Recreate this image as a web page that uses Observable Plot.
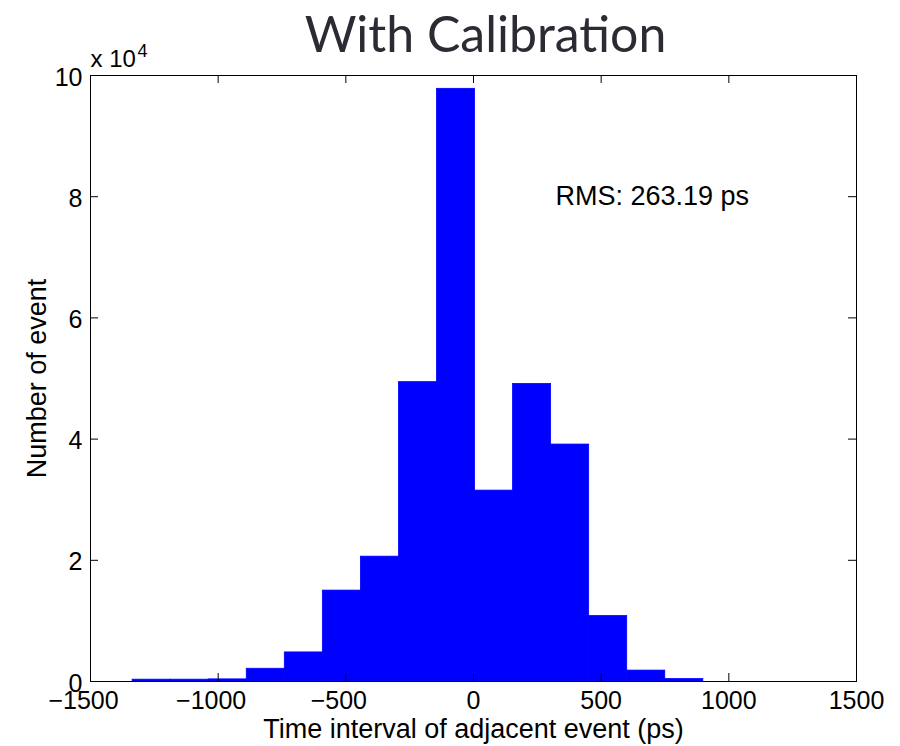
<!DOCTYPE html>
<html>
<head>
<meta charset="utf-8">
<script src="https://cdn.jsdelivr.net/npm/d3@7"></script>
<script src="https://cdn.jsdelivr.net/npm/@observablehq/plot@0.6"></script>
<style>
  html, body { margin: 0; padding: 0; background: #fff; }
</style>
</head>
<body>
<div id="chart"></div>
<script>
// Histogram bin edges (ps) and counts
const binEdges = [-1335, -1186, -1037, -888, -739, -590, -441, -292, -143, 6, 155, 304, 453, 602, 751, 900];
const counts = [300, 300, 350, 2100, 4800, 15000, 20600, 49400, 97800, 31500, 49100, 39100, 10800, 1800, 400];
const xTicks = [-1500, -1000, -500, 0, 500, 1000, 1500];
const yTicks = [0, 20000, 40000, 60000, 80000, 100000];
const titleText = "With Calibration";
const xLabel = "Time interval of adjacent event (ps)";
const yLabel = "Number of event";
const rmsNote = {x: 321, y: 80000, text: "RMS: 263.19 ps"};

const bins = counts.map((c, i) => ({x1: binEdges[i], x2: binEdges[i + 1], y: c}));

const W = 900, H = 746;
const mTop = 75, mBottom = 65, mLeft = 90, mRight = 44;
const frameH = H - mTop - mBottom;
const frameW = W - mLeft - mRight;
const tickLen = 8;
const fmtX = d => String(Math.abs(d));

const chart = Plot.plot({
  width: W,
  height: H,
  marginTop: mTop,
  marginBottom: mBottom,
  marginLeft: mLeft,
  marginRight: mRight,
  style: {fontFamily: "'Liberation Sans', Arial, Helvetica, sans-serif", color: "#000", background: "#fff"},
  x: {domain: [-1500, 1500], axis: null},
  y: {domain: [0, 100000]},
  marks: [
    Plot.rectY(bins, {x1: "x1", x2: "x2", y: "y", fill: "#0000ff", stroke: "#0000ff", strokeWidth: 0.8}),
    // inward ticks
    Plot.ruleX(xTicks, {x: d => d, insetTop: frameH - tickLen, stroke: "#000"}),
    Plot.ruleX(xTicks, {x: d => d, insetBottom: frameH - tickLen, stroke: "#000"}),
    Plot.ruleY(yTicks, {y: d => d, insetRight: frameW - tickLen, stroke: "#000"}),
    Plot.ruleY(yTicks, {y: d => d, insetLeft: frameW - tickLen, stroke: "#000"}),
    Plot.frame({stroke: "#000"}),
    // x tick labels (minus sign hangs to the left, as in MATLAB)
    Plot.text(xTicks.filter(d => d < 0), {x: d => d, text: d => "\u2212" + fmtX(d), frameAnchor: "bottom",
      lineAnchor: "top", textAnchor: "middle", dy: 10, dx: -7, fontSize: 25, fill: "#000"}),
    Plot.text(xTicks.filter(d => d >= 0), {x: d => d, text: fmtX, frameAnchor: "bottom",
      lineAnchor: "top", textAnchor: "middle", dy: 10, fontSize: 25, fill: "#000"}),
    Plot.axisY(yTicks, {anchor: "left", tickSize: 0, tickPadding: 8, fontSize: 25, fill: "#000", dy: 2,
      tickFormat: d => String(d / 10000), label: null}),
    Plot.text([xLabel], {text: d => d, frameAnchor: "bottom", lineAnchor: "middle", textAnchor: "middle",
      dy: 48, fontSize: 27, fill: "#000"}),
    Plot.text([yLabel], {text: d => d, frameAnchor: "left", lineAnchor: "middle", textAnchor: "middle",
      dx: -53, rotate: -90, fontSize: 27, fill: "#000"}),
    Plot.text([titleText], {text: d => d, frameAnchor: "top", lineAnchor: "middle", textAnchor: "middle",
      dx: 12, dy: -40, fontSize: 50, fontFamily: "Lato, 'Open Sans', sans-serif", fill: "#2b2b33"}),
    Plot.text(["x 10"], {text: d => d, frameAnchor: "top-left", lineAnchor: "middle", textAnchor: "start",
      dx: 0, dy: -16, fontSize: 24, fill: "#000"}),
    Plot.text(["4"], {text: d => d, frameAnchor: "top-left", lineAnchor: "middle", textAnchor: "start",
      dx: 47, dy: -24, fontSize: 18, fill: "#000"}),
    Plot.text([rmsNote], {x: "x", y: "y", text: "text", textAnchor: "start", lineAnchor: "middle",
      fontSize: 27, fill: "#000"})
  ]
});
document.getElementById("chart").appendChild(chart);
</script>
</body>
</html>
